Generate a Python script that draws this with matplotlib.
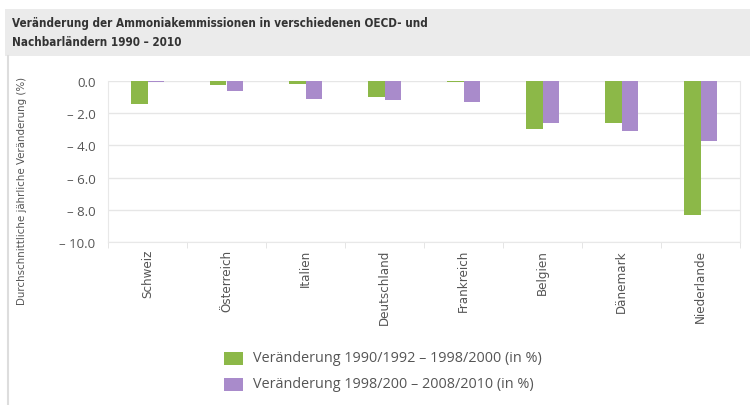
import matplotlib
matplotlib.use("Agg")
import matplotlib.pyplot as plt
from matplotlib.patches import Rectangle
from matplotlib.lines import Line2D
import numpy as np

categories = ["Schweiz", "Österreich", "Italien", "Deutschland", "Frankreich",
              "Belgien", "Dänemark", "Niederlande"]
green_vals = [-1.4, -0.25, -0.2, -1.0, -0.05, -3.0, -2.6, -8.3]
purple_vals = [-0.05, -0.6, -1.1, -1.2, -1.3, -2.6, -3.1, -3.7]
yticks = [0.0, -2.0, -4.0, -6.0, -8.0, -10.0]
ytick_labels = ["0.0", "– 2.0", "– 4.0", "– 6.0", "– 8.0", "– 10.0"]
legend_labels = ["Veränderung 1990/1992 – 1998/2000 (in %)",
                 "Veränderung 1998/200 – 2008/2010 (in %)"]
title = "Veränderung der Ammoniakemmissionen in verschiedenen OECD- und\nNachbarländern 1990 – 2010"
ylabel = "Durchschnittliche jährliche Veränderung (%)"

GREEN = "#8cb848"
PURPLE = "#a98bcb"
TXT = "#555555"
COND = dict(family='DejaVu Sans', stretch='condensed')

plt.rcParams['font.family'] = ['Open Sans', 'DejaVu Sans']

fig = plt.figure(figsize=(7.5, 4.06), dpi=100)
fig.patch.set_facecolor("white")

# title band
fig.add_artist(Rectangle((5/750, 1-57/406), 745/750, 47/406, transform=fig.transFigure,
                         facecolor="#ebebeb", edgecolor="none", zorder=0))
fig.text(12/750, 1-16.5/406, title, ha="left", va="top", fontsize=8.4,
         fontweight="bold", color="#333333", linespacing=1.6, **COND)
# left border line
fig.add_artist(Line2D([8/750, 8/750], [0, 1-57/406], transform=fig.transFigure,
                      color="#dddddd", lw=1.5))

ax = fig.add_axes([108/750, 1-243/406, 632/750, 161/406])
x = np.arange(len(categories))
w = 0.215
ax.bar(x - w/2, green_vals, width=w, color=GREEN, lw=0, zorder=3)
ax.bar(x + w/2, purple_vals, width=w, color=PURPLE, lw=0, zorder=3)

ax.set_xlim(-0.5, len(categories) - 0.5)
ax.set_ylim(-10, 0)
ax.set_yticks(yticks)
ax.set_yticklabels(ytick_labels)
ax.yaxis.grid(True, color="#e6e6e6", lw=1, zorder=0)
for s in ax.spines.values():
    s.set_color("#e8e8e8")
ax.spines['top'].set_visible(False)
ax.tick_params(axis='y', length=0, labelsize=9.5, labelcolor=TXT, pad=9)
ax.set_xticks(x)
ax.set_xticklabels(categories, rotation=90, fontsize=9.5, color=TXT, **COND)
ax.set_xticks(np.arange(len(categories) + 1) - 0.5, minor=True)
ax.tick_params(axis='x', which='major', length=0, pad=5)
ax.tick_params(axis='x', which='minor', length=4, color="#e0e0e0")

fig.text(22/750, 1-191/406, ylabel, rotation=90, ha="center", va="center",
         fontsize=8.2, color=TXT, **COND)

# legend
for i, (lab, col) in enumerate(zip(legend_labels, [GREEN, PURPLE])):
    yc = 359 + i * 26
    fig.add_artist(Rectangle((224/750, 1-(yc+6.5)/406), 19/750, 13/406,
                             transform=fig.transFigure, facecolor=col,
                             edgecolor="none"))
    fig.text(253/750, 1-yc/406, lab, ha="left", va="center", fontsize=10.4,
             color=TXT)

fig.savefig("out.png", dpi=100)
